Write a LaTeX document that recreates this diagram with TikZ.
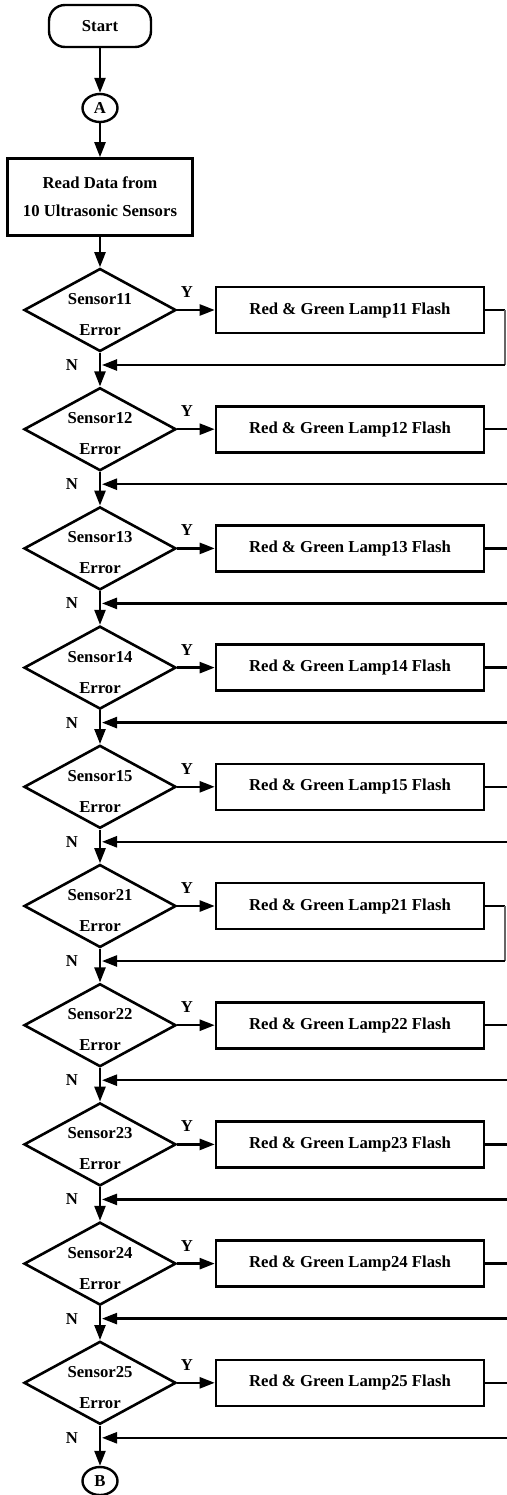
\documentclass[tikz,border=0pt]{standalone}
\usepackage{fontspec}
\setmainfont{Liberation Serif}
\usepackage{tikz}
\usetikzlibrary{shapes.geometric, arrows, arrows.meta}
\tikzstyle{arrow} = [line width=2.4pt,-{Triangle[length=15pt,width=11pt]},>=stealth]
\tikzstyle{startstop} = [rectangle, rounded corners=16pt, draw, line width=2.4pt, minimum width=102pt, minimum height=42pt, font=\fontsize{16.7}{20}\selectfont\bfseries]
\tikzstyle{connector} = [ellipse, draw, line width=2.4pt, minimum width=35pt, minimum height=28pt, inner sep=0pt, font=\fontsize{16.7}{20}\selectfont\bfseries]
\tikzstyle{process} = [rectangle, draw, line width=2.6pt, align=center, font=\fontsize{16.7}{28}\selectfont\bfseries]
\tikzstyle{decision} = [diamond, draw, line width=2.6pt, minimum width=152pt, minimum height=83pt, inner sep=0pt]
\tikzstyle{dtext} = [align=center, inner sep=0pt, font=\fontsize{16.7}{31}\selectfont\bfseries]
\tikzstyle{lbl} = [inner sep=0pt, font=\fontsize{16.7}{20}\selectfont\bfseries]

\begin{document}
\begin{tikzpicture}[x=1pt,y=-1pt]
\useasboundingbox (0,0) rectangle (506,1495);

\node[startstop] (start) at (100,26) {Start};
\node[connector] (A) at (100,108) {A};
\node[process, minimum width=185pt, minimum height=77pt] (rd) at (100,197) {Read Data from\\10 Ultrasonic Sensors};
\draw[arrow] (start) -- (A);
\draw[arrow] (A) -- (rd);

% one row per sensor
\foreach \s/\rx [count=\i from 0] in {11/505,12/509,13/509,14/509,15/509,21/505,22/509,23/509,24/509,25/509}{
  \pgfmathsetmacro{\y}{310+119.2*\i}
  \pgfmathsetmacro{\yr}{\y+55}
  \node[decision] (d\s) at (100,\y) {};
  \node[dtext] at (100,\y+4.5) {Sensor\s\\Error};
  \node[process, minimum width=268pt, minimum height=46pt] (l\s) at (350,\y) {Red \& Green Lamp\s{} Flash};
  \draw[arrow] (d\s) -- (l\s);
  \node[lbl] at (187,\y-18) {Y};
  \node[lbl] at (72,\yr) {N};
  \coordinate (e\s) at (\rx,\y);
  \coordinate (f\s) at (\rx,\yr);
  \coordinate (r\s) at (102,\yr);
  \draw[line width=2.4pt] (l\s.east) -- (e\s);
  \draw[line width=1.2pt, black!60] (e\s) -- (f\s);
  \draw[arrow] (f\s) -- (r\s);
}

\draw[arrow] (rd) -- (d11);
\foreach \a/\b in {11/12,12/13,13/14,14/15,15/21,21/22,22/23,23/24,24/25}
  \draw[arrow] (d\a) -- (d\b);

\node[connector] (B) at (100,1481) {B};
\draw[arrow] (d25) -- (B);
\end{tikzpicture}
\end{document}
